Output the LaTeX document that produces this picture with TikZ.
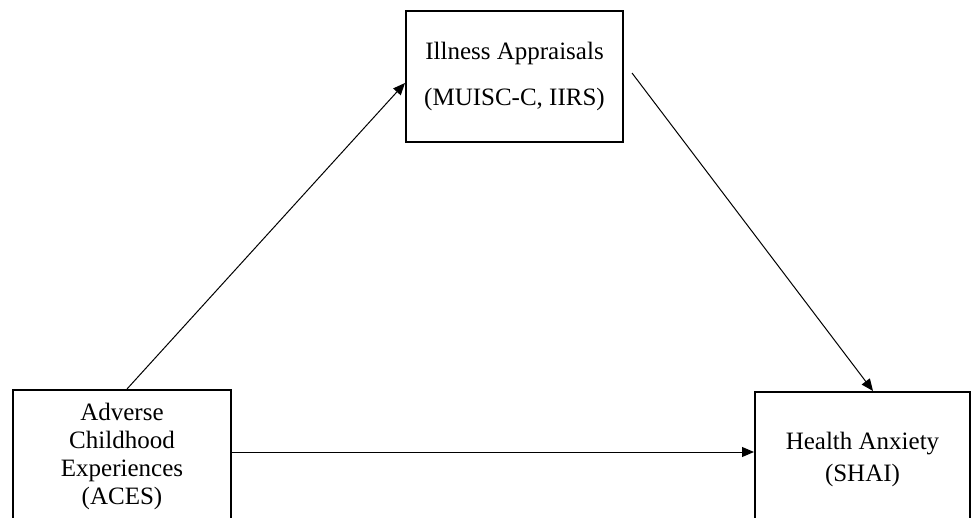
\documentclass[tikz,border=0pt]{standalone}
\usepackage{fontspec}
\setmainfont{Liberation Serif}
\usetikzlibrary{arrows.meta}
\begin{document}
\begin{tikzpicture}[x=1pt,y=1pt,
  box/.style={draw=black, line width=2pt, fill=white, inner sep=0pt, align=center,
    font=\fontsize{25}{28}\selectfont},
  conn/.style={line width=1pt, -{Triangle[length=12pt,width=10pt]}}]
\clip (0,0) rectangle (972,-518);
\fill[white] (0,0) rectangle (972,-518);
\node[box, minimum width=217pt, minimum height=131pt] (ia) at (514.5,-76.5)
  {Illness Appraisals\\[18pt](MUISC-C, IIRS)};
\node[box, minimum width=218pt, minimum height=132pt] (aces) at (122,-456)
  {Adverse\\Childhood\\Experiences\\(ACES)};
\node[box, minimum width=215pt, minimum height=134pt,
  font=\fontsize{25}{32}\selectfont] (ha) at (862.5,-459)
  {Health Anxiety\\(SHAI)};
\draw[conn] ([xshift=5pt]aces.north) -- ([yshift=-6.5pt]ia.west);
\draw[conn] ([xshift=8pt,yshift=3.5pt]ia.east) -- ([xshift=10.5pt]ha.north);
\draw[conn] ([yshift=4pt]aces.east) -- ([yshift=7pt]ha.west);
\end{tikzpicture}
\end{document}
